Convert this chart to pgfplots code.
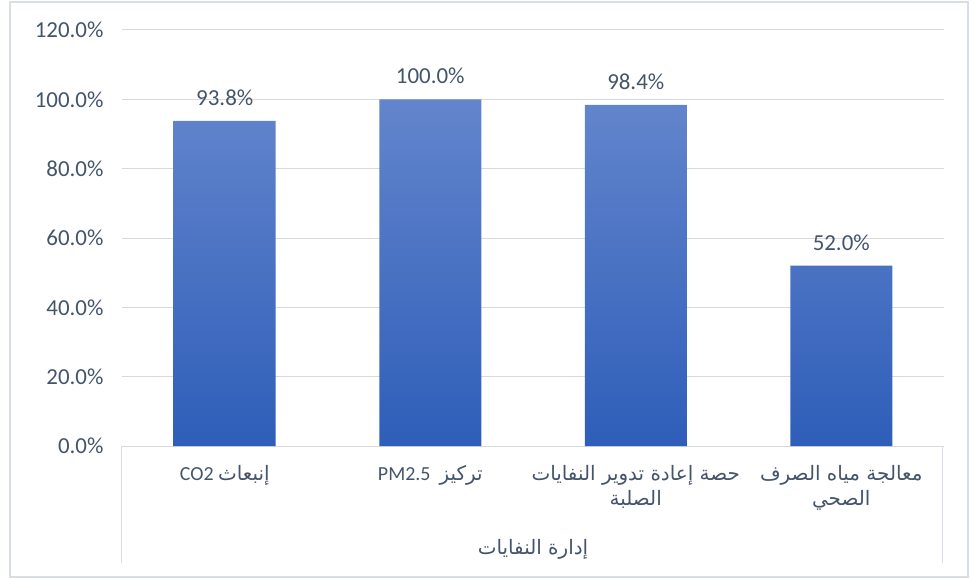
\documentclass[border=0pt]{standalone}
\usepackage{pgfplots}
\pgfplotsset{compat=1.18}
\usepackage{fontspec}
\setmainfont{Carlito}
\newfontfamily\arabicfont[Script=Arabic]{DejaVu Sans}
\TeXXeTstate=1
\definecolor{txt}{RGB}{68,84,106}
\definecolor{gridc}{RGB}{217,217,217}
\definecolor{frame}{RGB}{217,222,230}
\definecolor{bartop}{RGB}{99,133,204}
\definecolor{barmid}{RGB}{68,114,196}
\definecolor{barbot}{RGB}{46,94,185}
\begin{document}
\begin{tikzpicture}
\begin{axis}[
  name=ax,
  scale only axis,
  width=822bp, height=416bp,
  xmin=-0.5, xmax=3.5,
  ymin=0, ymax=120,
  ytick={0,20,...,120},
  xtick={0,1,2,3},
  xticklabels={
    {CO2 {\arabicfont\beginR إنبعاث\endR}},
    {PM2.5\ \ {\arabicfont\beginR تركيز\endR}},
    {{\arabicfont\beginR حصة إعادة تدوير النفايات\endR}\\{\arabicfont\beginR الصلبة\endR}},
    {{\arabicfont\beginR معالجة مياه الصرف\endR}\\{\arabicfont\beginR الصحي\endR}}
  },
  xticklabel style={align=center, font=\fontsize{20}{25}\selectfont, text=txt, yshift=-16bp},
  yticklabel={\pgfmathprintnumber[fixed,zerofill,precision=1]{\tick}\%},
  yticklabel style={font=\fontsize{23}{28}\selectfont, text=txt, xshift=-15bp},
  /pgf/number format/assume math mode=true,
  axis x line*=bottom,
  axis y line*=left,
  y axis line style={draw=none},
  x axis line style={draw=gridc, line width=1pt},
  major tick length=0pt,
  ymajorgrids,
  grid style={draw=gridc, line width=1pt},
  ybar, bar width=102bp,
  clip=false,
  nodes near coords={\pgfmathprintnumber[fixed,zerofill,precision=1]{\pgfplotspointmeta}\%},
  nodes near coords style={font=\fontsize{23}{28}\selectfont, text=txt, anchor=south, yshift=12bp},
  xlabel={\arabicfont\beginR إدارة النفايات\endR},
  xlabel style={font=\fontsize{20}{25}\selectfont, text=txt, at={(axis description cs:0.5,-0.2476)}, anchor=center},
]
\addplot[draw=none, top color=bartop, middle color=barmid, bottom color=barbot] coordinates {(0,93.8) (1,100.0) (2,98.4) (3,52.0)};
\draw[frame, line width=1pt] (axis description cs:0,0) -- (axis description cs:0,-0.2813);
\draw[frame, line width=1pt] (axis description cs:0.9976,0) -- (axis description cs:0.9976,-0.2813);
\end{axis}
\draw[frame, line width=1.2pt] ([shift={(-112bp,-131bp)}]ax.south west) rectangle ([shift={(24bp,28bp)}]ax.north east);
\path[use as bounding box] ([shift={(-122bp,-133bp)}]ax.south west) rectangle ([shift={(27bp,30bp)}]ax.north east);
\end{tikzpicture}
\end{document}
